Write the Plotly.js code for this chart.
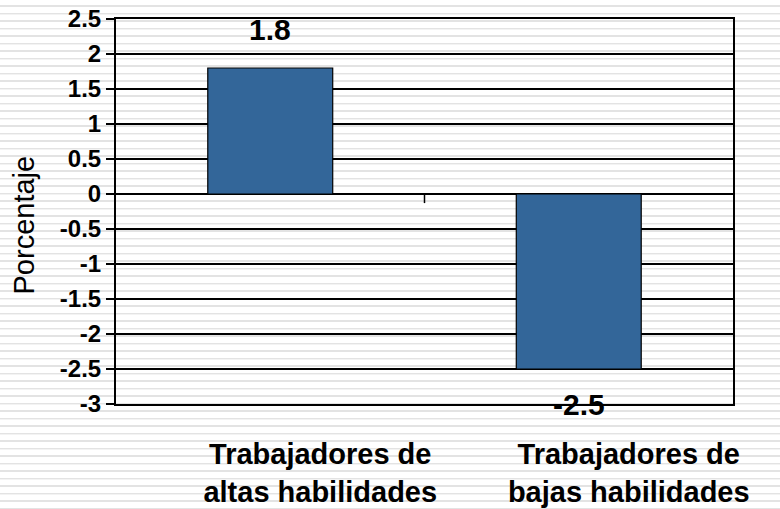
<!DOCTYPE html>
<html>
<head>
<meta charset="utf-8">
<script src="https://cdn.plot.ly/plotly-3.0.1.min.js"></script>
<style>
html, body { margin: 0; padding: 0; }
body {
  width: 780px; height: 509px; overflow: hidden;
  background: repeating-linear-gradient(to bottom,
    #ffffff 0px, #ffffff 5.5px,
    #e3e3e3 5.5px, #e3e3e3 7px,
    #f3f3f3 7px, #f3f3f3 7.5px);
}
#chart { width: 780px; height: 509px; }
</style>
</head>
<body>
<div id="chart"></div>
<script>
const categories = ["Trabajadores de<br>altas habilidades", "Trabajadores de<br>bajas habilidades"];
const values = [1.8, -2.5];
const valueLabels = ["1.8", "-2.5"];
const yTickVals = [2.5, 2, 1.5, 1, 0.5, 0, -0.5, -1, -1.5, -2, -2.5, -3];
const yTickText = ["2.5", "2", "1.5", "1", "0.5", "0", "-0.5", "-1", "-1.5", "-2", "-2.5", "-3"];
const yTitle = "Porcentaje";

const FONT = "Liberation Sans, Arial, sans-serif";

const trace = {
  type: "bar",
  x: categories,
  y: values,
  width: 0.405,
  marker: { color: "#336699", line: { color: "#000000", width: 1.2 } },
  hoverinfo: "none"
};

const annotations = values.map((v, i) => ({
  x: categories[i], y: v, xref: "x", yref: "y",
  text: valueLabels[i], showarrow: false,
  yanchor: v >= 0 ? "bottom" : "top",
  yshift: v >= 0 ? 20 : -17,
  font: { family: FONT, size: 30, color: "#000", weight: "bold" }
}));

annotations.push({
  xref: "paper", yref: "paper", x: 0, y: 0.5,
  xanchor: "center", yanchor: "middle",
  xshift: -93, yshift: -14,
  textangle: -90, showarrow: false,
  text: yTitle,
  font: { family: FONT, size: 29, color: "#000" }
});

const layout = {
  width: 780, height: 509,
  margin: { l: 116, r: 47, t: 19, b: 105 },
  paper_bgcolor: "rgba(0,0,0,0)",
  plot_bgcolor: "rgba(0,0,0,0)",
  showlegend: false,
  font: { family: FONT, color: "#000" },
  xaxis: {
    type: "category",
    range: [-0.5, 1.5],
    showline: true, mirror: true, linecolor: "#000", linewidth: 2,
    showgrid: false, zeroline: false,
    ticks: "", ticklabelshift: 50, ticklabelstandoff: 23,
    tickfont: { family: FONT, size: 29, color: "#000", weight: "bold" }
  },
  yaxis: {
    range: [-3, 2.5],
    tickvals: yTickVals, ticktext: yTickText,
    showline: true, mirror: true, linecolor: "#000", linewidth: 2,
    showgrid: true, gridcolor: "#000", gridwidth: 1.5,
    zeroline: false,
    ticks: "outside", ticklen: 8, tickwidth: 1.5, tickcolor: "#000",
    tickfont: { family: FONT, size: 24, color: "#000", weight: "bold" }
  },
  shapes: [{
    type: "line", xref: "x", yref: "y",
    x0: 0.5, x1: 0.5, y0: 0, y1: -0.13,
    line: { color: "#000", width: 1.5 }
  }],
  annotations: annotations
};

Plotly.newPlot("chart", [trace], layout, { displayModeBar: false, staticPlot: true });
</script>
</body>
</html>
